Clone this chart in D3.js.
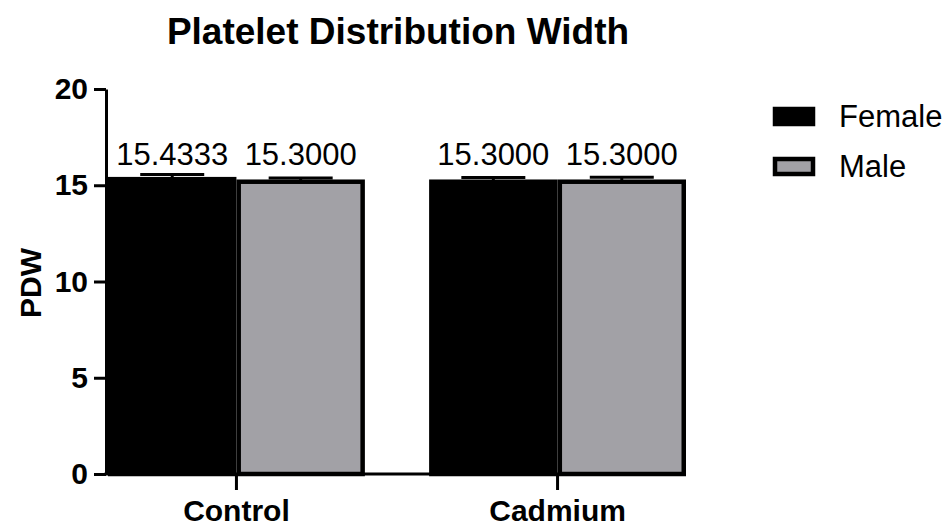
<!DOCTYPE html>
<html><head><meta charset="utf-8">
<script src="https://cdn.jsdelivr.net/npm/d3@7"></script>
<style>
html,body{margin:0;padding:0;background:#fff;}
text{font-family:"Liberation Sans",Arial,Helvetica,sans-serif;}
</style></head>
<body><svg id="c" width="948" height="527"></svg>
<script>
const groups = ["Control", "Cadmium"];
const series = ["Female", "Male"];
const female = [15.4333, 15.3000];
const male = [15.3000, 15.3000];
const femaleErr = [0.12, 0.10];
const maleErr = [0.08, 0.12];
const yTicks = [0, 5, 10, 15, 20];
const colors = {Female: "#000000", Male: "#a2a1a6"};

const svg = d3.select("#c");
const y = d3.scaleLinear().domain([0, 20]).range([474, 89]);
const x0 = d3.scaleBand().domain(groups).range([108, 686]).paddingInner(0.2).paddingOuter(0);
const x1 = d3.scaleBand().domain(series).range([0, x0.bandwidth()]);
const sw = 4.5;

const data = [];
groups.forEach((g, i) => {
  data.push({g, s: "Female", v: female[i], e: femaleErr[i]});
  data.push({g, s: "Male", v: male[i], e: maleErr[i]});
});

// title
svg.append("text").attr("x", 398).attr("y", 44).attr("text-anchor", "middle")
  .attr("font-size", 37).attr("font-weight", "bold").text("Platelet Distribution Width");

// error bars (drawn under bars)
const eb = svg.append("g");
data.forEach(d => {
  const cx = x0(d.g) + x1(d.s) + x1.bandwidth() / 2;
  eb.append("line").attr("x1", cx).attr("x2", cx).attr("y1", y(d.v) + 4).attr("y2", y(d.v + d.e))
    .attr("stroke", "#000").attr("stroke-width", 3);
  eb.append("line").attr("x1", cx - 32).attr("x2", cx + 32).attr("y1", y(d.v + d.e)).attr("y2", y(d.v + d.e))
    .attr("stroke", "#000").attr("stroke-width", 3);
});

// bars (border drawn inside the bar)
svg.append("g").selectAll("rect").data(data).join("rect")
  .attr("x", d => x0(d.g) + x1(d.s) + sw / 2)
  .attr("y", d => y(d.v) + sw / 2)
  .attr("width", x1.bandwidth() - sw)
  .attr("height", d => y(0) - y(d.v) - sw / 2)
  .attr("fill", d => colors[d.s])
  .attr("stroke", "#000").attr("stroke-width", sw);

// value labels
svg.append("g").selectAll("text").data(data).join("text")
  .attr("x", d => x0(d.g) + x1(d.s) + x1.bandwidth() / 2)
  .attr("y", 165)
  .attr("text-anchor", "middle").attr("font-size", 31)
  .text(d => d.v.toFixed(4));

// y axis
const ya = svg.append("g").attr("transform", "translate(106,0)")
  .call(d3.axisLeft(y).tickValues(yTicks).tickSize(12).tickSizeOuter(0).tickPadding(6));
ya.selectAll("path,line").attr("stroke", "#000").attr("stroke-width", 3);
ya.selectAll("text").attr("font-size", 30).attr("font-weight", "bold").attr("fill", "#000")
  .attr("font-family", "'Liberation Sans',Arial,sans-serif");

// x axis
const xa = svg.append("g").attr("transform", "translate(0,474)")
  .call(d3.axisBottom(x0).tickSize(16).tickSizeOuter(0).tickPadding(10));
xa.select("path").remove();
xa.append("line").attr("x1", 104.5).attr("x2", 686).attr("stroke", "#000").attr("stroke-width", 3);
xa.selectAll(".tick line").attr("stroke", "#000").attr("stroke-width", 3);
xa.selectAll("text").attr("font-size", 30).attr("font-weight", "bold").attr("fill", "#000")
  .attr("font-family", "'Liberation Sans',Arial,sans-serif");

// y title
svg.append("text").attr("transform", "translate(41,283) rotate(-90)")
  .attr("text-anchor", "middle").attr("font-size", 30).attr("font-weight", "bold").text("PDW");

// legend
const lg = svg.append("g").selectAll("g").data(series).join("g")
  .attr("transform", (d, i) => `translate(775,${109 + i * 50})`);
lg.append("rect").attr("width", 38).attr("height", 15)
  .attr("fill", d => colors[d]).attr("stroke", "#000").attr("stroke-width", 4.5);
lg.append("text").attr("x", 64).attr("y", 18).attr("font-size", 31).text(d => d);
</script></body></html>
